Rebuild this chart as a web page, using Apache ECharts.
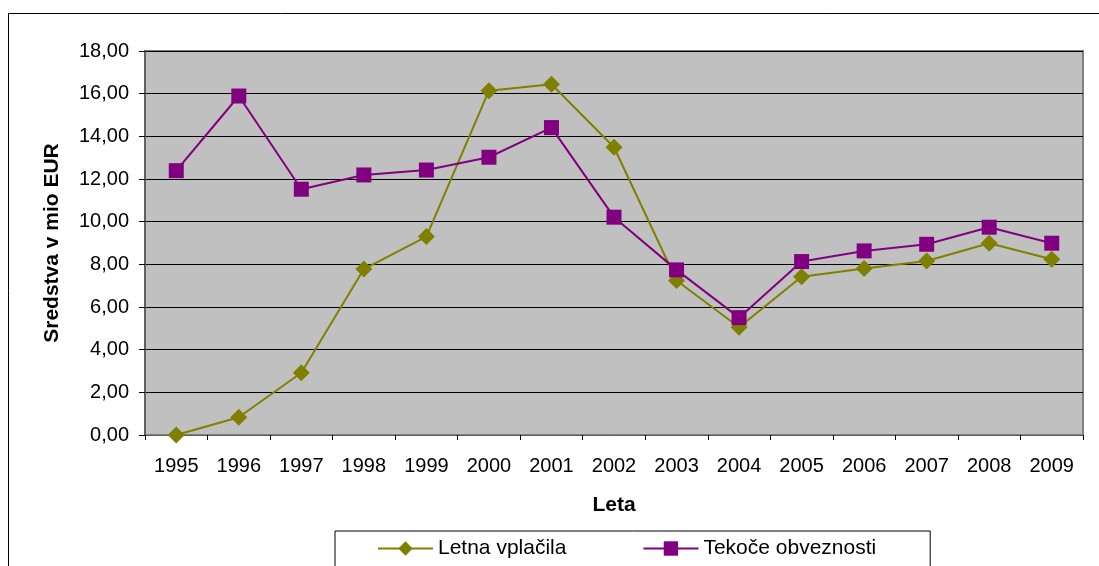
<!DOCTYPE html>
<html>
<head>
<meta charset="utf-8">
<script src="https://cdn.jsdelivr.net/npm/echarts@6/dist/echarts.min.js"></script>
<style>
  html, body { margin: 0; padding: 0; background: #fff; }
  #chart { width: 1099px; height: 566px; }
</style>
</head>
<body>
<div id="chart"></div>
<script>
// Leta
var years = ['1995', '1996', '1997', '1998', '1999', '2000', '2001', '2002', '2003', '2004', '2005', '2006', '2007', '2008', '2009']
// Letna vplačila
var letnaVplacila = [0.00, 0.83, 2.92, 7.78, 9.30, 16.14, 16.44, 13.49, 7.24, 5.05, 7.42, 7.81, 8.16, 8.99, 8.24]
// Tekoče obveznosti
var tekoceObveznosti = [12.39, 15.89, 11.52, 12.19, 12.42, 13.02, 14.41, 10.21, 7.74, 5.50, 8.13, 8.63, 8.94, 9.74, 8.99]

var font = 'Liberation Sans, Arial, sans-serif'
var myChart = echarts.init(document.getElementById('chart'))

var option = {
  animation: false,
  textStyle: { fontFamily: font },
  graphic: [
    {
      type: 'rect',
      shape: { x: 8.5, y: 13.5, width: 1200, height: 700 },
      style: { fill: 'none', stroke: '#000', lineWidth: 1 },
      silent: true
    }
  ],
  grid: {
    left: 145,
    right: 16,
    top: 51,
    bottom: 131,
    show: true,
    backgroundColor: '#c0c0c0',
    borderColor: '#808080',
    borderWidth: 2
  },
  legend: {
    left: 335,
    top: 531,
    padding: [7, 54, 20, 42],
    itemGap: 76,
    itemWidth: 55,
    itemHeight: 18,
    backgroundColor: '#fff',
    borderColor: '#000',
    borderWidth: 1,
    borderRadius: 0,
    textStyle: { fontSize: 21, color: '#000', fontFamily: font },
    data: ['Letna vplačila', 'Tekoče obveznosti']
  },
  xAxis: {
    type: 'category',
    data: years,
    boundaryGap: true,
    name: 'Leta',
    nameLocation: 'middle',
    nameGap: 60,
    nameTextStyle: { fontSize: 21, fontWeight: 'bold', color: '#000' },
    axisLine: { show: true, lineStyle: { color: '#606060', width: 1 } },
    axisTick: { show: true, alignWithLabel: false, length: 5, lineStyle: { color: '#000' } },
    axisLabel: { fontSize: 20, color: '#000', margin: 21 },
    splitLine: { show: false }
  },
  yAxis: {
    type: 'value',
    min: 0,
    max: 18,
    interval: 2,
    name: 'Sredstva v mio EUR',
    nameLocation: 'middle',
    nameGap: 82,
    nameRotate: 90,
    nameTextStyle: { fontSize: 21, fontWeight: 'bold', color: '#000' },
    axisLine: { show: true, lineStyle: { color: '#606060', width: 2 } },
    axisTick: { show: true, length: 6, lineStyle: { color: '#000' } },
    axisLabel: {
      fontSize: 20,
      color: '#000',
      margin: 16,
      formatter: function (v) { return v.toFixed(2).replace('.', ',') }
    },
    splitLine: { show: true, lineStyle: { color: '#000', width: 1 } }
  },
  series: [
    {
      name: 'Letna vplačila',
      type: 'line',
      data: letnaVplacila,
      color: '#808000',
      symbol: 'diamond',
      symbolSize: 17,
      showAllSymbol: true,
      lineStyle: { width: 2, color: '#808000' },
      itemStyle: { color: '#808000' },
      z: 3
    },
    {
      name: 'Tekoče obveznosti',
      type: 'line',
      data: tekoceObveznosti,
      color: '#800080',
      symbol: 'rect',
      symbolSize: 15,
      showAllSymbol: true,
      lineStyle: { width: 2, color: '#800080' },
      itemStyle: { color: '#800080' },
      z: 4
    }
  ]
}

option && myChart.setOption(option)
</script>
</body>
</html>
